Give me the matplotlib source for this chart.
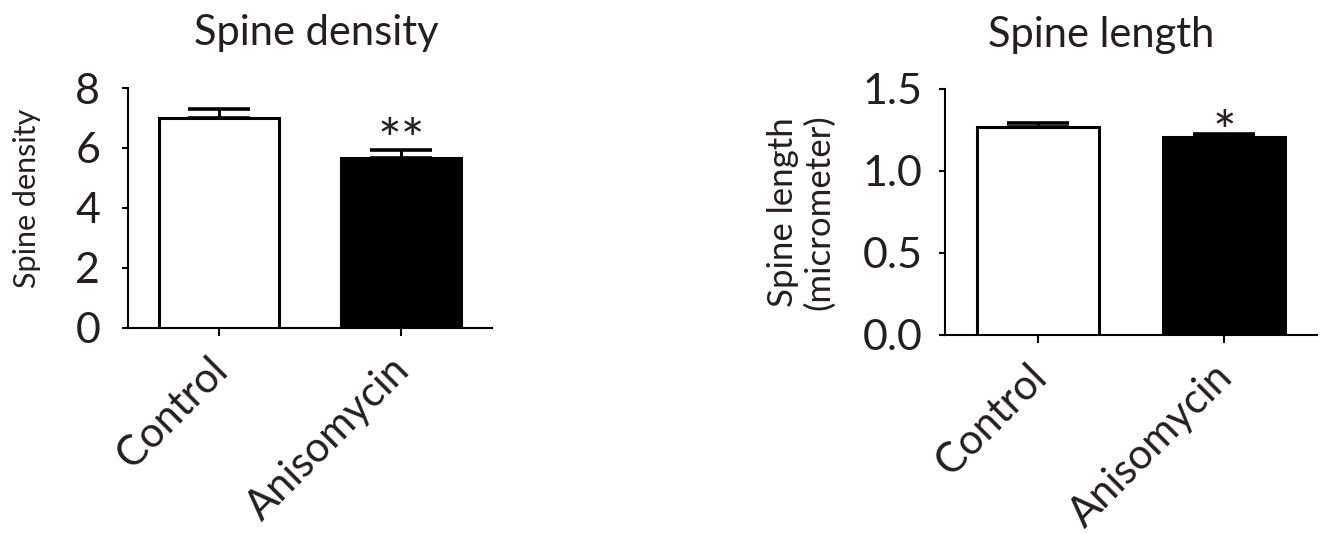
import numpy as np
import matplotlib.pyplot as plt

# Group means and SEM for each panel
groups = ['Control', 'Anisomycin']
density_mean = [7.01, 5.68]
density_sem = [0.28, 0.25]
length_mean = [1.27, 1.209]
length_sem = [0.025, 0.017]
density_stars = ['', '**']
length_stars = ['', '*']

plt.rcParams['font.family'] = ['Lato', 'DejaVu Sans']
txt = '#231f20'

fig = plt.figure(figsize=(13.26, 5.34), dpi=100)


def bar_panel(rect, means, sems, stars, ylim, yticks, ylabel, label_pos,
              label_size, tick_pad, star_dy):
    ax = fig.add_axes(rect)
    x = np.arange(len(groups))
    ax.bar(x, means, width=0.66, color=['white', 'black'], edgecolor='black',
           linewidth=2.2, zorder=3)
    ax.errorbar(x, means, yerr=[np.zeros(len(sems)), sems], fmt='none',
                ecolor='black', elinewidth=2.2, capsize=22, capthick=2.6, zorder=2)
    for i, s in enumerate(stars):
        if s:
            ax.annotate(s, xy=(x[i], means[i] + sems[i]), xytext=(0, star_dy),
                        textcoords='offset points', ha='center', va='baseline',
                        fontsize=40, color=txt)
    ax.set_xlim(-0.5, 1.5)
    ax.set_ylim(*ylim)
    ax.set_yticks(yticks)
    ax.set_xticks(x)
    ax.set_xticklabels([])
    # rotated group names hanging under each tick
    for i, g in enumerate(groups):
        ax.annotate(g, xy=(x[i], 0), xycoords=('data', 'axes fraction'),
                    xytext=(-8, -16), textcoords='offset points',
                    rotation=45, ha='right', va='top', rotation_mode='anchor',
                    fontsize=30, color=txt, annotation_clip=False)
    for sp in ['top', 'right']:
        ax.spines[sp].set_visible(False)
    for sp in ['left', 'bottom']:
        ax.spines[sp].set_linewidth(1.5)
    ax.tick_params(axis='y', labelsize=31, labelcolor=txt, length=4, width=1.5,
                   pad=tick_pad)
    ax.tick_params(axis='x', length=6, width=1.5)
    ax.set_ylabel(ylabel, fontsize=label_size, color=txt, linespacing=1.15)
    ax.yaxis.set_label_coords(*label_pos)
    return ax


ax1 = bar_panel([0.0965, 0.3858, 0.2745, 0.4494], density_mean, density_sem,
                density_stars, (0, 8), [0, 2, 4, 6, 8], 'Spine density',
                (-0.24, 0.54), 22, 16, -6.5)
ax1.set_yticklabels(['0', '2', '4', '6', '8'])

ax2 = bar_panel([0.7127, 0.3727, 0.2805, 0.4607], length_mean, length_sem,
                length_stars, (0, 1.5), [0, 0.5, 1.0, 1.5],
                'Spine length\n(micrometer)', (-0.296, 0.5), 25, 12, -12)
ax2.set_yticklabels(['0.0', '0.5', '1.0', '1.5'])

fig.text(0.2383, 0.9157, 'Spine density', ha='center', va='baseline',
         fontsize=30, color=txt)
fig.text(0.8303, 0.912, 'Spine length', ha='center', va='baseline',
         fontsize=30, color=txt)

fig.savefig('out.png', dpi=100)
